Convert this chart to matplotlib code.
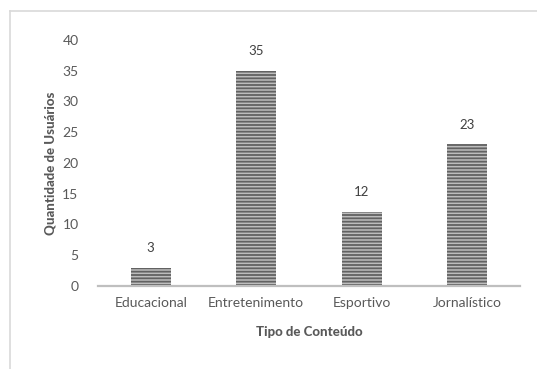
import matplotlib.pyplot as plt
from matplotlib.lines import Line2D

categorias = ["Educacional", "Entretenimento", "Esportivo", "Jornalístico"]
usuarios = [3, 35, 12, 23]
yticks = [0, 5, 10, 15, 20, 25, 30, 35, 40]

plt.rcParams['font.family'] = ['Lato', 'DejaVu Sans']
plt.rcParams['hatch.linewidth'] = 1.3
plt.rcParams['hatch.color'] = '#626262'
cinza = '#595959'

fig = plt.figure(figsize=(5.37, 3.69), dpi=100)
ax = fig.add_axes([0.1825, 0.225, 0.7855, 0.667])

x = range(len(categorias))
bars = ax.bar(x, usuarios, width=0.38, color='#bdbdbd', hatch='-----',
              edgecolor='#626262', linewidth=0)

for b, v in zip(bars, usuarios):
    ax.annotate(str(v), (b.get_x() + b.get_width() / 2, v),
                xytext=(0, 10), textcoords='offset points',
                ha='center', va='bottom', fontsize=9.5, color='#404040')

ax.set_xlim(-0.5, 3.5)
ax.set_ylim(0, 40)
ax.set_yticks(yticks)
ax.set_xticks(list(x))
ax.set_xticklabels(categorias)
ax.tick_params(length=0, labelsize=10, colors=cinza)
ax.tick_params(axis='y', pad=14)
ax.tick_params(axis='x', pad=8)

for s in ['top', 'right', 'left']:
    ax.spines[s].set_visible(False)
ax.spines['bottom'].set_color('#bfbfbf')
ax.spines['bottom'].set_linewidth(1.6)

ax.set_ylabel("Quantidade de Usuários", fontsize=9.5, fontweight='black',
              color=cinza, labelpad=4)
ax.set_xlabel("Tipo de Conteúdo", fontsize=9.5, fontweight='black',
              color=cinza, labelpad=12)

# moldura cinza clara (topo e esquerda)
fig.add_artist(Line2D([0.0186, 1.0], [0.970, 0.970], color='#d9d9d9', lw=1.2))
fig.add_artist(Line2D([0.0186, 0.0186], [0.0, 0.970], color='#d9d9d9', lw=1.2))

fig.savefig("out.png", dpi=100)
